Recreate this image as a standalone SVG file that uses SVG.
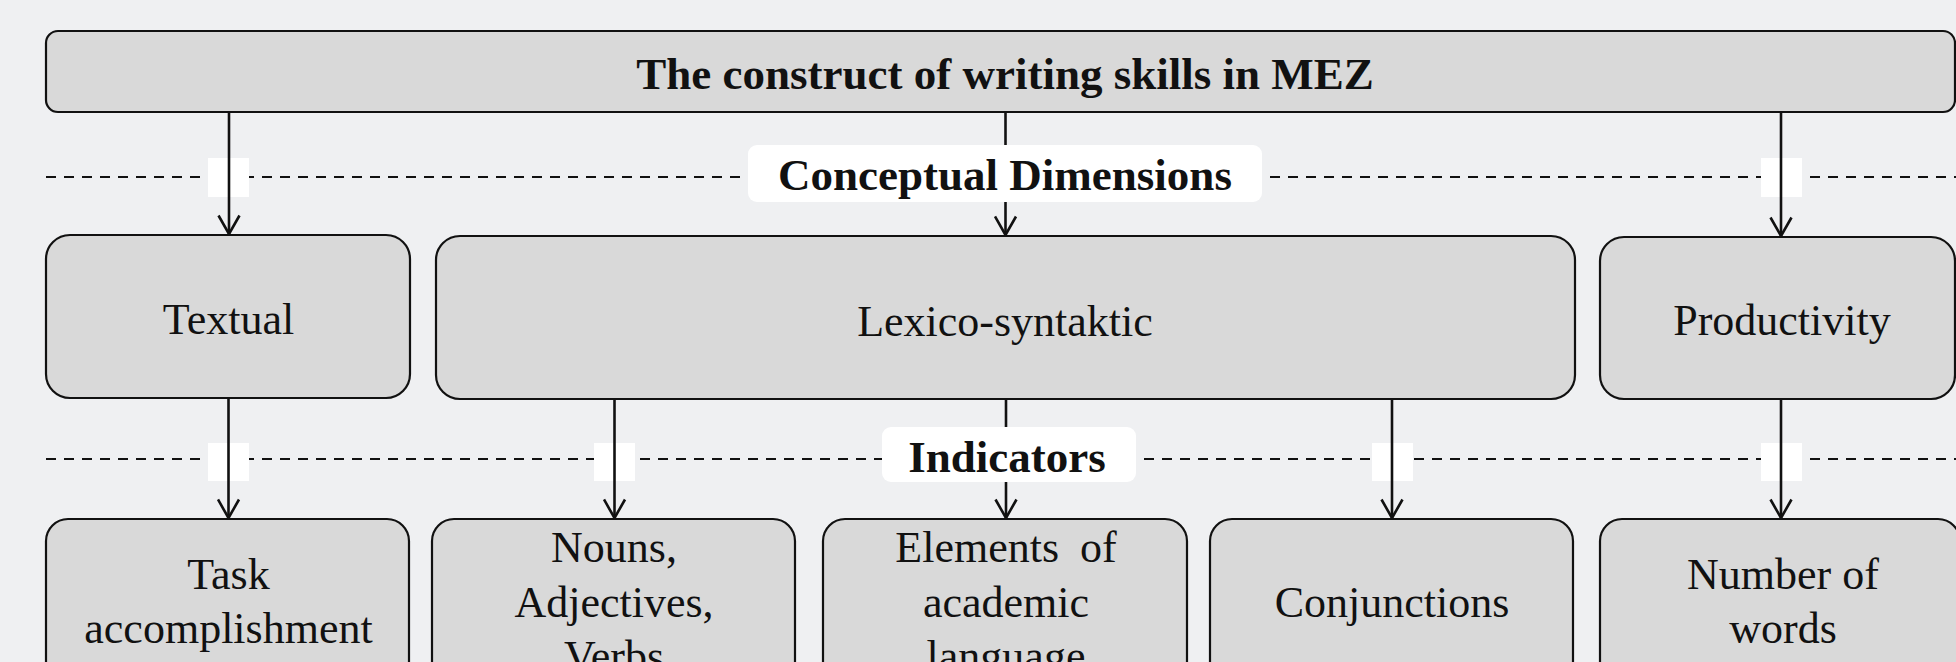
<svg xmlns="http://www.w3.org/2000/svg" width="1956" height="662" viewBox="0 0 1956 662">
<defs>
<style>
.bg{fill:#EFF0F2}
.node{fill:#D9D9D9;stroke:#111;stroke-width:2.2}
.dash{stroke:#111;stroke-width:2.2;stroke-dasharray:10 8;fill:none}
.gap{fill:#FFFFFF}
.lbl{fill:#FFFFFF}
.conn{stroke:#111;stroke-width:2.6;fill:none;marker-end:url(#arr)}
.t{font-family:"Liberation Serif","Times New Roman",serif;font-size:44px;fill:#111;text-anchor:middle}
.b{font-family:"Liberation Serif","Times New Roman",serif;font-size:45px;font-weight:bold;fill:#111;text-anchor:middle}
</style>
<marker id="arr" viewBox="0 0 22 24" refX="20" refY="12" markerWidth="22" markerHeight="24" markerUnits="userSpaceOnUse" orient="auto">
<path d="M1.5,1.5 L20,12 L1.5,22.5" fill="none" stroke="#111" stroke-width="2.6" stroke-linejoin="miter"/>
</marker>
</defs>
<rect class="bg" x="0" y="0" width="1956" height="662"/>

<g id="layers">
<line class="dash" x1="46" y1="177" x2="1956" y2="177"/>
<line class="dash" x1="46" y1="459" x2="1956" y2="459"/>
<rect class="gap" x="208" y="158" width="41" height="39"/>
<rect class="gap" x="1761" y="158" width="41" height="39"/>
<rect class="gap" x="208" y="443" width="41" height="38"/>
<rect class="gap" x="594" y="443" width="41" height="38"/>
<rect class="gap" x="1372" y="443" width="41" height="38"/>
<rect class="gap" x="1761" y="443" width="41" height="38"/>
</g>

<g id="connectors">
<line class="conn" x1="229" y1="112" x2="229" y2="234"/>
<line class="conn" x1="1005.5" y1="112" x2="1005.5" y2="235"/>
<line class="conn" x1="1781" y1="112" x2="1781" y2="236"/>
<line class="conn" x1="228.5" y1="398" x2="228.5" y2="518"/>
<line class="conn" x1="614.5" y1="399" x2="614.5" y2="518"/>
<line class="conn" x1="1006" y1="399" x2="1006" y2="518"/>
<line class="conn" x1="1392" y1="399" x2="1392" y2="518"/>
<line class="conn" x1="1781" y1="399" x2="1781" y2="518"/>
</g>

<g id="label-conceptual">
<rect class="lbl" x="748" y="145" width="514" height="57" rx="9"/>
<text class="b" x="1005" y="190">Conceptual Dimensions</text>
</g>
<g id="label-indicators">
<rect class="lbl" x="882" y="427" width="254" height="55" rx="9"/>
<text class="b" x="1007" y="472">Indicators</text>
</g>

<g id="node-top">
<rect class="node" x="46" y="31" width="1909" height="81" rx="12"/>
<text class="b" x="1005" y="89">The construct of writing skills in MEZ</text>
</g>

<g id="node-textual">
<rect class="node" x="46" y="235" width="364" height="163" rx="24"/>
<text class="t" x="228.5" y="334">Textual</text>
</g>
<g id="node-lexico">
<rect class="node" x="436" y="236" width="1139" height="163" rx="24"/>
<text class="t" x="1005" y="336">Lexico-syntaktic</text>
</g>
<g id="node-productivity">
<rect class="node" x="1600" y="237" width="355" height="162" rx="24"/>
<text class="t" x="1782" y="335">Productivity</text>
</g>

<g id="node-task">
<rect class="node" x="46" y="519" width="363" height="200" rx="22"/>
<text class="t" x="228.5" y="589">Task</text>
<text class="t" x="228.5" y="643">accomplishment</text>
</g>
<g id="node-nouns">
<rect class="node" x="432" y="519" width="363" height="200" rx="22"/>
<text class="t" x="614" y="562">Nouns,</text>
<text class="t" x="614" y="616.5">Adjectives,</text>
<text class="t" x="614" y="671">Verbs</text>
</g>
<g id="node-elements">
<rect class="node" x="823" y="519" width="364" height="200" rx="22"/>
<text class="t" x="1006" y="562" word-spacing="10">Elements of</text>
<text class="t" x="1006" y="616.5">academic</text>
<text class="t" x="1006" y="671">language</text>
</g>
<g id="node-conjunctions">
<rect class="node" x="1210" y="519" width="363" height="200" rx="22"/>
<text class="t" x="1392" y="617">Conjunctions</text>
</g>
<g id="node-number">
<rect class="node" x="1600" y="519" width="360" height="200" rx="22"/>
<text class="t" x="1783" y="589">Number of</text>
<text class="t" x="1783" y="643">words</text>
</g>
</svg>
